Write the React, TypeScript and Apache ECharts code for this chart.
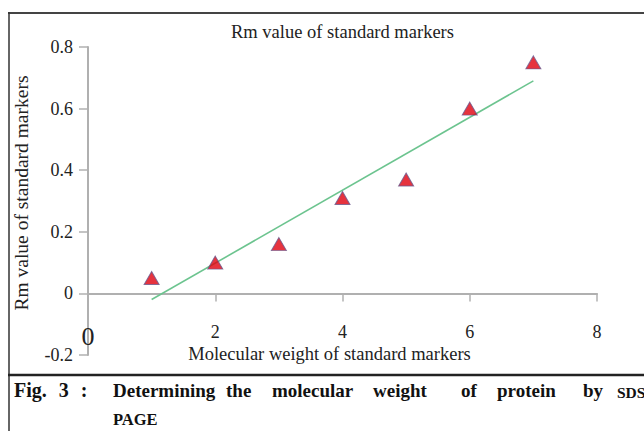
import React, { useEffect, useRef } from "react";
import * as echarts from "echarts";

const chartTitle = "Rm value of standard markers";
const xAxisName = "Molecular weight of standard markers";
const yAxisName = "Rm value of standard markers";
const markerX = [1, 2, 3, 4, 5, 6, 7];
const rmValues = [0.05, 0.1, 0.16, 0.31, 0.37, 0.6, 0.75];
const trendX = [1, 7];
const trendY = [-0.02, 0.69];
const captionLabelParts = ["Fig.", "3", ":"];
const captionWords = ["Determining", "the", "molecular", "weight", "of", "protein", "by"];
const captionTail = "SDS-";
const captionLine2 = "PAGE";

const SERIF = '"Liberation Serif", "Times New Roman", serif';

export default function App() {
  const ref = useRef<HTMLDivElement>(null);
  useEffect(() => {
    if (!ref.current) return;
    const chart = echarts.init(ref.current, undefined, { renderer: "svg" });
    const gridTop = 47;
    const gridBottomY = 355;
    const yMin = -0.2;
    const yMax = 0.8;
    // distance from the grid bottom to the y = 0 line, so the x axis sits on zero
    const zeroOffset = ((0 - yMin) / (yMax - yMin)) * (gridBottomY - gridTop);
    const wordX = [113, 226, 272, 373, 461, 497, 583];
    const captionGraphics: any[] = captionWords.map((w, i) => ({
      type: "text",
      left: wordX[i],
      top: 381,
      style: { text: w, font: `bold 19px ${SERIF}`, fill: "#111" },
    }));
    const option: any = {
      animation: false,
      backgroundColor: "#ffffff",
      textStyle: { fontFamily: SERIF },
      grid: {
        left: 88,
        right: 47,
        top: gridTop,
        bottom: 431 - gridBottomY,
        containLabel: false,
        outerBoundsMode: "none",
      },
      xAxis: {
        type: "value",
        min: 0,
        max: 8,
        interval: 2,
        position: "bottom",
        offset: -zeroOffset,
        name: xAxisName,
        nameLocation: "middle",
        nameGap: 51,
        nameMoveOverlap: false,
        nameTextStyle: {
          fontSize: 18.5,
          color: "#222",
          fontFamily: SERIF,
          padding: [0, 26, 0, 0],
        },
        axisLine: { show: true, onZero: false, lineStyle: { color: "#b0b0b0", width: 2 } },
        axisTick: { show: true, length: 8, lineStyle: { color: "#b0b0b0", width: 1.5 } },
        splitLine: { show: false },
        axisLabel: {
          margin: 30,
          fontSize: 18,
          color: "#222",
          fontFamily: SERIF,
          formatter: (v: number) => (v === 0 ? "{big|0}" : String(v)),
          rich: { big: { fontSize: 26, color: "#222", fontFamily: SERIF, padding: [0, 0, 6, 0] } },
        },
      },
      yAxis: {
        type: "value",
        min: yMin,
        max: yMax,
        interval: 0.2,
        name: yAxisName,
        nameLocation: "middle",
        nameGap: 57,
        nameMoveOverlap: false,
        nameRotate: 90,
        nameTextStyle: {
          fontSize: 19.5,
          color: "#222",
          fontFamily: SERIF,
          padding: [0, 0, 0, 16],
        },
        axisLine: { show: true, onZero: false, lineStyle: { color: "#b0b0b0", width: 2 } },
        axisTick: { show: true, length: 9, lineStyle: { color: "#b0b0b0", width: 1.5 } },
        splitLine: { show: false },
        axisLabel: {
          margin: 15,
          fontSize: 18,
          color: "#222",
          fontFamily: SERIF,
          formatter: (v: number) => String(Math.round(v * 10) / 10),
        },
      },
      series: [
        {
          type: "line",
          data: trendX.map((x, i) => [x, trendY[i]]),
          symbol: "none",
          lineStyle: { color: "#6cc48f", width: 1.6 },
          z: 2,
          silent: true,
        },
        {
          type: "scatter",
          data: markerX.map((x, i) => [x, rmValues[i]]),
          symbol: "triangle",
          symbolSize: [15, 13],
          itemStyle: { color: "#e0000e", borderColor: "#6b5a8e", borderWidth: 1 },
          z: 3,
        },
      ],
      graphic: [
        {
          type: "text",
          left: 231,
          top: 22,
          style: { text: chartTitle, font: `18.5px ${SERIF}`, fill: "#222" },
        },
        {
          type: "line",
          shape: { x1: 8, y1: 13, x2: 644, y2: 13 },
          style: { stroke: "#444", lineWidth: 2 },
        },
        {
          type: "line",
          shape: { x1: 9, y1: 12, x2: 9, y2: 431 },
          style: { stroke: "#333", lineWidth: 1.5 },
        },
        {
          type: "line",
          shape: { x1: 8, y1: 375, x2: 644, y2: 375 },
          style: { stroke: "#222", lineWidth: 2.5 },
        },
        {
          type: "text",
          left: 14,
          top: 380,
          style: {
            text: captionLabelParts.map((p) => `{t|${p}}`).join(" "),
            font: `bold 20px ${SERIF}`,
            fill: "#111",
            rich: { t: { font: `bold 20px ${SERIF}`, fill: "#111", padding: [0, 7, 0, 0] } },
          },
        },
        ...captionGraphics,
        {
          type: "text",
          left: 617,
          top: 384,
          style: { text: captionTail, font: `bold 15.5px ${SERIF}`, fill: "#111" },
        },
        {
          type: "text",
          left: 113,
          top: 411,
          style: { text: captionLine2, font: `bold 16.5px ${SERIF}`, fill: "#111" },
        },
      ],
    };
    chart.setOption(option);
    return () => chart.dispose();
  }, []);
  return (
    <div
      ref={ref}
      style={{ position: "absolute", left: 0, top: 0, width: 644, height: 431 }}
    />
  );
}
